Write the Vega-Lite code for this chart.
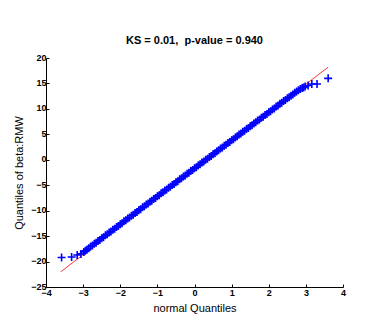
{
  "$schema": "https://vega.github.io/schema/vega-lite/v6.json",
  "width": 297,
  "height": 229,
  "autosize": {"type": "none"},
  "padding": {"left": 46, "top": 58, "right": 45, "bottom": 46},
  "background": "white",
  "config": {
    "view": {"stroke": null},
    "font": "Liberation Sans",
    "axis": {
      "grid": false,
      "domainColor": "black",
      "tickColor": "black",
      "labelColor": "black",
      "titleColor": "black",
      "labelFont": "Liberation Sans",
      "titleFont": "Liberation Sans",
      "labelFontSize": 9,
      "labelFontWeight": "bold",
      "titleFontSize": 11,
      "titleFontWeight": "normal",
      "tickSize": -3
    }
  },
  "title": {
    "text": "KS = 0.01,\u00a0 p-value = 0.940",
    "font": "Liberation Sans",
    "fontSize": 11,
    "fontWeight": "bold",
    "color": "black",
    "offset": 7
  },
  "datasets": {
    "pts": [
      {"x": -3.58, "y": -19.2}, {"x": -3.31, "y": -19.1}, {"x": -3.16, "y": -18.7}, {"x": -3.06, "y": -18.5}, {"x": -2.98, "y": -18.1}, {"x": -2.94, "y": -17.9},
      {"x": -2.90, "y": -17.7}, {"x": -2.85, "y": -17.4}, {"x": -2.80, "y": -17.05}, {"x": -2.75, "y": -16.85}, {"x": -2.70, "y": -16.5},
      {"x": -2.65, "y": -16.3}, {"x": -2.60, "y": -15.95}, {"x": -2.55, "y": -15.75}, {"x": -2.50, "y": -15.4}, {"x": -2.45, "y": -15.2},
      {"x": -2.40, "y": -14.85}, {"x": -2.35, "y": -14.65}, {"x": -2.30, "y": -14.3}, {"x": -2.25, "y": -14.1}, {"x": -2.20, "y": -13.75},
      {"x": -2.15, "y": -13.55}, {"x": -2.10, "y": -13.2}, {"x": -2.05, "y": -13.0}, {"x": -2.00, "y": -12.65}, {"x": -1.95, "y": -12.45},
      {"x": -1.90, "y": -12.1}, {"x": -1.85, "y": -11.9}, {"x": -1.80, "y": -11.55}, {"x": -1.75, "y": -11.35}, {"x": -1.70, "y": -11.0},
      {"x": -1.65, "y": -10.8}, {"x": -1.60, "y": -10.45}, {"x": -1.55, "y": -10.25}, {"x": -1.50, "y": -9.9}, {"x": -1.45, "y": -9.7},
      {"x": -1.40, "y": -9.35}, {"x": -1.35, "y": -9.15}, {"x": -1.30, "y": -8.8}, {"x": -1.25, "y": -8.6}, {"x": -1.20, "y": -8.25},
      {"x": -1.15, "y": -8.05}, {"x": -1.10, "y": -7.7}, {"x": -1.05, "y": -7.5}, {"x": -1.00, "y": -7.15}, {"x": -0.95, "y": -6.95},
      {"x": -0.90, "y": -6.6}, {"x": -0.85, "y": -6.4}, {"x": -0.80, "y": -6.05}, {"x": -0.75, "y": -5.85}, {"x": -0.70, "y": -5.5},
      {"x": -0.65, "y": -5.3}, {"x": -0.60, "y": -4.95}, {"x": -0.55, "y": -4.75}, {"x": -0.50, "y": -4.4}, {"x": -0.45, "y": -4.2},
      {"x": -0.40, "y": -3.85}, {"x": -0.35, "y": -3.65}, {"x": -0.30, "y": -3.3}, {"x": -0.25, "y": -3.1}, {"x": -0.20, "y": -2.75},
      {"x": -0.15, "y": -2.55}, {"x": -0.10, "y": -2.2}, {"x": -0.05, "y": -2.0}, {"x": 0.00, "y": -1.65}, {"x": 0.05, "y": -1.45},
      {"x": 0.10, "y": -1.1}, {"x": 0.15, "y": -0.9}, {"x": 0.20, "y": -0.55}, {"x": 0.25, "y": -0.35}, {"x": 0.30, "y": 0.0},
      {"x": 0.35, "y": 0.2}, {"x": 0.40, "y": 0.55}, {"x": 0.45, "y": 0.75}, {"x": 0.50, "y": 1.1}, {"x": 0.55, "y": 1.3},
      {"x": 0.60, "y": 1.65}, {"x": 0.65, "y": 1.85}, {"x": 0.70, "y": 2.2}, {"x": 0.75, "y": 2.4}, {"x": 0.80, "y": 2.75},
      {"x": 0.85, "y": 2.95}, {"x": 0.90, "y": 3.3}, {"x": 0.95, "y": 3.5}, {"x": 1.00, "y": 3.85}, {"x": 1.05, "y": 4.05},
      {"x": 1.10, "y": 4.4}, {"x": 1.15, "y": 4.6}, {"x": 1.20, "y": 4.95}, {"x": 1.25, "y": 5.15}, {"x": 1.30, "y": 5.5},
      {"x": 1.35, "y": 5.7}, {"x": 1.40, "y": 6.05}, {"x": 1.45, "y": 6.25}, {"x": 1.50, "y": 6.6}, {"x": 1.55, "y": 6.8},
      {"x": 1.60, "y": 7.15}, {"x": 1.65, "y": 7.35}, {"x": 1.70, "y": 7.7}, {"x": 1.75, "y": 7.9}, {"x": 1.80, "y": 8.25},
      {"x": 1.85, "y": 8.45}, {"x": 1.90, "y": 8.8}, {"x": 1.95, "y": 9.0}, {"x": 2.00, "y": 9.35}, {"x": 2.05, "y": 9.55},
      {"x": 2.10, "y": 9.9}, {"x": 2.15, "y": 10.1}, {"x": 2.20, "y": 10.45}, {"x": 2.25, "y": 10.65}, {"x": 2.30, "y": 11.0},
      {"x": 2.35, "y": 11.2}, {"x": 2.40, "y": 11.55}, {"x": 2.45, "y": 11.75}, {"x": 2.50, "y": 12.1}, {"x": 2.55, "y": 12.3},
      {"x": 2.60, "y": 12.6}, {"x": 2.65, "y": 12.85}, {"x": 2.70, "y": 13.15}, {"x": 2.75, "y": 13.4}, {"x": 2.80, "y": 13.65},
      {"x": 2.85, "y": 13.9}, {"x": 2.90, "y": 14.1}, {"x": 2.94, "y": 14.2}, {"x": 2.98, "y": 14.4}, {"x": 3.06, "y": 14.6},
      {"x": 3.16, "y": 14.9}, {"x": 3.30, "y": 14.9}, {"x": 3.60, "y": 16.0}
    ],
    "fit": [
      {"x": -3.6, "y": -22.0},
      {"x": 3.6, "y": 18.2}
    ]
  },
  "encoding": {
    "x": {"field": "x", "type": "quantitative", "scale": {"domain": [-4, 4], "nice": false, "zero": false},
          "axis": {"values": [-4, -3, -2, -1, 0, 1, 2, 3, 4], "title": "normal Quantiles", "labelPadding": 4, "titlePadding": 5,
                   "labelOverlap": false, "labelFlush": false, "labelBound": false}},
    "y": {"field": "y", "type": "quantitative", "scale": {"domain": [-25, 20], "nice": false, "zero": false},
          "axis": {"values": [-25, -20, -15, -10, -5, 0, 5, 10, 15, 20], "title": "Quantiles of beta:RMW", "labelPadding": 3, "titlePadding": 6,
                   "labelOffset": -1, "labelOverlap": false, "labelFlush": false, "labelBound": false}}
  },
  "layer": [
    {
      "data": {"name": "fit"},
      "mark": {"type": "line", "color": "#ff2020", "strokeWidth": 0.9}
    },
    {
      "data": {"name": "pts"},
      "mark": {"type": "point", "shape": "M-1,0L1,0M0,-1L0,1", "filled": false, "color": "#0000ff", "strokeWidth": 1.6, "size": 64, "opacity": 1}
    }
  ]
}
